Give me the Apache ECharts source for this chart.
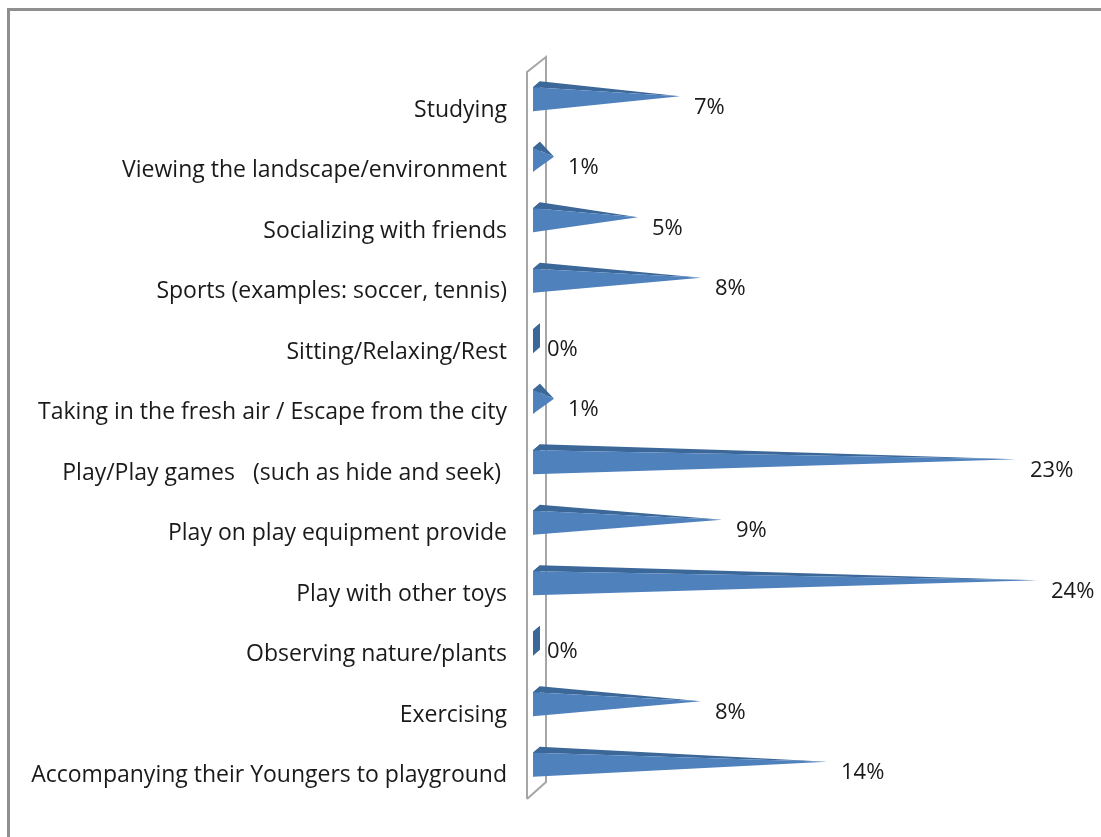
<!DOCTYPE html>
<html>
<head>
<meta charset="utf-8">
<script src="https://cdn.jsdelivr.net/npm/echarts@6/dist/echarts.min.js"></script>
<style>
  html, body { margin: 0; padding: 0; background: #fff; }
  #chart { width: 1101px; height: 837px; }
</style>
</head>
<body>
<div id="chart"></div>
<script>
// Activities (top to bottom) and share of respondents, in percent
const categories = [
  'Studying',
  'Viewing the landscape/environment',
  'Socializing with friends',
  'Sports (examples: soccer, tennis)',
  'Sitting/Relaxing/Rest',
  'Taking in the fresh air / Escape from the city',
  'Play/Play games   (such as hide and seek) ',
  'Play on play equipment provide',
  'Play with other toys',
  'Observing nature/plants',
  'Exercising',
  'Accompanying their Youngers to playground'
];
const shares = [7, 1, 5, 8, 0, 1, 23, 9, 24, 0, 8, 14];

const FRONT = '#4f81bd';
const TOP = '#3b6799';
const FONT = '"Open Sans"';

const chart = echarts.init(document.getElementById('chart'));

// A horizontal cone: lighter front face, darker upper face, dark base disc
function renderCone(params, api) {
  const idx = api.value(1);
  const v = api.value(0);
  const base = api.coord([0, idx]);
  const end = api.coord([v, idx]);
  const x0 = base[0];
  const c = base[1];
  const tip = [end[0], c - 14];
  const dx = 7, dy = 6;
  const top = c - 23, bot = c + 1;
  return {
    type: 'group',
    children: [
      {
        type: 'polygon',
        shape: { points: [[x0, top], [x0 + dx, top - dy], [x0 + dx, bot - dy], [x0, bot]] },
        style: { fill: TOP }
      },
      {
        type: 'polygon',
        shape: { points: [[x0, top], [x0 + dx, top - dy], tip] },
        style: { fill: TOP }
      },
      {
        type: 'polygon',
        shape: { points: [[x0, top], [x0, bot], tip] },
        style: { fill: FRONT }
      },
      {
        type: 'text',
        x: tip[0] + 14,
        y: c - 3,
        style: {
          text: v + '%',
          fill: '#1a1a1a',
          font: '22px ' + FONT,
          align: 'left',
          verticalAlign: 'middle'
        }
      }
    ]
  };
}

const GRID = { left: 533, top: 80, width: 525, height: 726 };

chart.setOption({
  animation: false,
  backgroundColor: '#fff',
  grid: GRID,
  xAxis: {
    type: 'value',
    min: 0,
    max: 25,
    show: false
  },
  yAxis: {
    type: 'category',
    data: categories,
    inverse: true,
    axisLine: { show: false },
    axisTick: { show: false },
    splitLine: { show: false },
    axisLabel: {
      margin: 26,
      color: '#1a1a1a',
      fontFamily: 'Open Sans',
      fontSize: 23,
      padding: [6, 0, 0, 0]
    }
  },
  series: [{
    type: 'custom',
    renderItem: renderCone,
    encode: { x: 0, y: 1 },
    data: shares.map((v, i) => [v, i]),
    clip: false
  }]
});

// Outer frame and the thin 3D wall behind the cones, placed from the grid
const x0 = chart.convertToPixel({ xAxisIndex: 0 }, 0);
const gTop = GRID.top, gBot = GRID.top + GRID.height;
const wl = x0 - 6, wr = x0 + 13;
const wallStyle = { stroke: '#a6a6a6', lineWidth: 2, fill: null };
chart.setOption({
  graphic: [
    {
      type: 'rect',
      shape: { x: 8.5, y: 9.5, width: 1200, height: 1000 },
      style: { stroke: '#8f8f8f', lineWidth: 3, fill: null },
      z: 0
    },
    {
      type: 'polyline',
      shape: { points: [[wl, gBot - 7], [wl, gTop - 8], [wr, gTop - 23], [wr, gBot - 24], [wl, gBot - 7]] },
      style: wallStyle,
      z: -1
    }
  ]
});
</script>
</body>
</html>
